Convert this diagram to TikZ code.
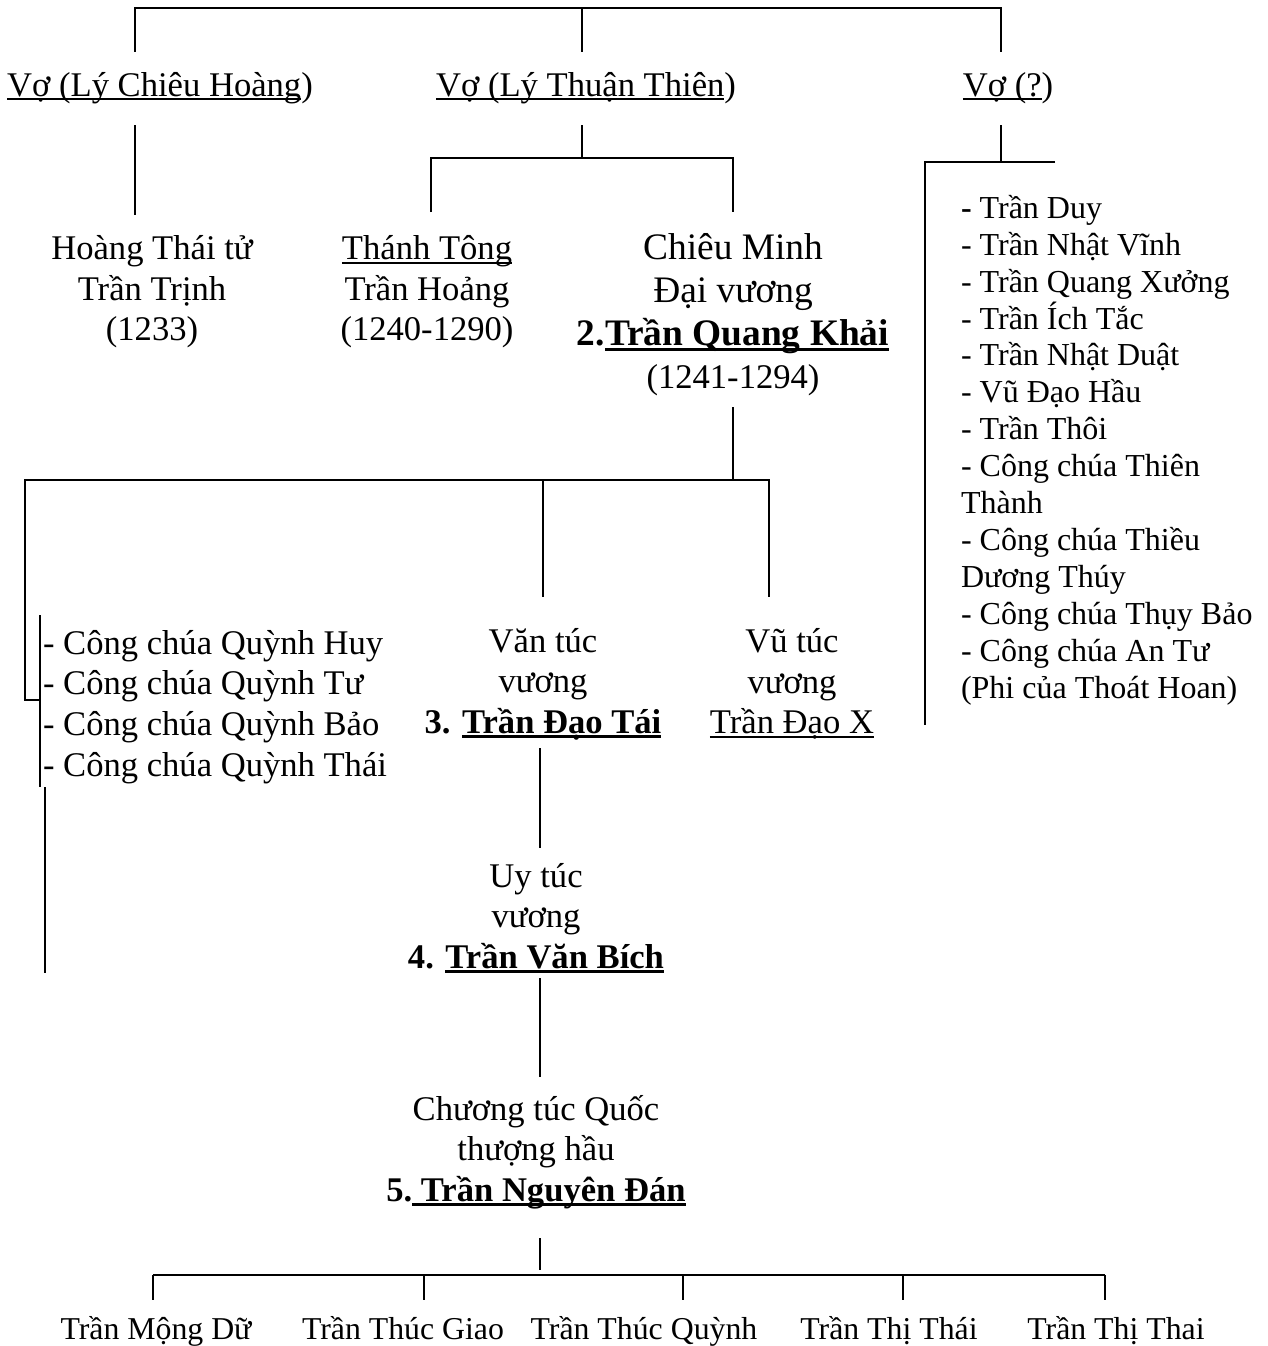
\documentclass[tikz,border=0pt]{standalone}
\usepackage{fontspec}
\setmainfont{Liberation Serif}
\newsavebox{\ulbox}
\newcommand{\myul}[1]{\sbox{\ulbox}{#1}\rlap{\rule[-0.12em]{\wd\ulbox}{0.055em}}\usebox{\ulbox}}
\newcommand{\myulb}[1]{\sbox{\ulbox}{#1}\rlap{\rule[-0.13em]{\wd\ulbox}{0.08em}}\usebox{\ulbox}}
\tikzset{
  lbl/.style={inner sep=0pt, font=\fontsize{34.6}{40}\selectfont},
  blk/.style={inner sep=0pt, align=center, font=\fontsize{34.6}{40.5}\selectfont},
  lst/.style={inner sep=0pt, align=left, anchor=west},
  leaf/.style={inner sep=0pt, font=\fontsize{31.8}{37}\selectfont, anchor=base},
  bus/.style={line width=2.6pt},
}
\begin{document}
\begin{tikzpicture}[x=1pt, y=-1pt, line width=2pt]
\useasboundingbox (0,0) rectangle (1268,1346);

% ---- generation 1: wives
\node[lbl, anchor=base] (vo1) at (160,96) {\myul{Vợ (Lý Chiêu Hoàng})};
\node[lbl, anchor=base] (vo2) at (586,96) {\myul{Vợ (Lý Thuận Thiên})};
\node[lbl, anchor=base] (vo3) at (1008,96) {\myul{Vợ (?})};

% ---- generation 2
\node[blk] (trinh) at (152,292) {Hoàng Thái tử\\Trần Trịnh\\(1233)};
\node[blk] (hoang) at (427,292) {\myul{Thánh Tông}\\Trần Hoảng\\(1240-1290)};
\node[blk, font=\fontsize{37.4}{43}\selectfont] (khai) at (733,315)
  {Chiêu Minh\\Đại vương\\\textbf{2.\myulb{Trần Quang Khải}}\\{\fontsize{34.6}{43}\selectfont(1241-1294)}};
\node[lst, font=\fontsize{32}{36.9}\selectfont] (kids3) at (960,450)
  {\textbf{-} Trần Duy\\- Trần Nhật Vĩnh\\- Trần Quang Xưởng\\- Trần Ích Tắc\\- Trần Nhật Duật\\- Vũ Đạo Hầu\\- Trần Thôi\\- Công chúa Thiên\\Thành\\- Công chúa Thiều\\Dương Thúy\\- Công chúa Thụy Bảo\\- Công chúa An Tư\\(Phi của Thoát Hoan)};

% ---- generation 3
\node[lst, font=\fontsize{34.6}{40.7}\selectfont] (girls) at (42,707)
  {- Công chúa Quỳnh Huy\\- Công chúa Quỳnh Tư\\- Công chúa Quỳnh Bảo\\- Công chúa Quỳnh Thái};
\node[blk] (tai) at (543,684) {Văn túc\\vương\\\textbf{3. \myulb{Trần Đạo Tái}}};
\node[blk] (daox) at (792,684) {Vũ túc\\vương\\\myul{Trần Đạo X}};

% ---- generations 4, 5
\node[blk] (bich) at (536,918) {Uy túc\\vương\\\textbf{4. \myulb{Trần Văn Bích}}};
\node[blk] (dan) at (536,1152) {Chương túc Quốc\\thượng hầu\\\textbf{5.\myulb{ Trần Nguyên Đán}}};

% ---- generation 6
\node[leaf] (c1) at (156,1339) {Trần Mộng Dữ};
\node[leaf] (c2) at (403,1339) {Trần Thúc Giao};
\node[leaf] (c3) at (644,1339) {Trần Thúc Quỳnh};
\node[leaf] (c4) at (889,1339) {Trần Thị Thái};
\node[leaf] (c5) at (1116,1339) {Trần Thị Thai};

% ---- connectors
\coordinate (tL) at (135,8);
\coordinate (tM) at (582,8);
\coordinate (tR) at (1001,8);
\draw[line width=2.3pt] (135,52) -- (tL) -- (tR) -- (1001,52);
\draw (tM) -- (582,52);

\draw (135,125) -- (135,215);

\coordinate (b2) at (582,158);
\draw (582,125) -- (b2);
\draw (431,212) -- (431,158) -- (733,158) -- (733,212);

\coordinate (b3) at (1001,162);
\draw (1001,125) -- (b3);
\draw (1055,162) -- (925,162) -- (925,725);

\coordinate (b4) at (733,480);
\draw (733,407) -- (b4);
\draw (40,700) -- (25,700) -- (25,480) -- (769,480) -- (769,597);
\draw (543,480) -- (543,597);
\draw (40,615) -- (40,787);
\draw (45,787) -- (45,973);

\draw (540,748) -- (540,848);
\draw (540,978) -- (540,1077);
\draw (540,1238) -- (540,1270);
\draw[bus] (153,1275) -- (1105,1275);
\foreach \xx in {153,424,683,903,1105} \draw (\xx,1275) -- (\xx,1300);
\end{tikzpicture}
\end{document}
